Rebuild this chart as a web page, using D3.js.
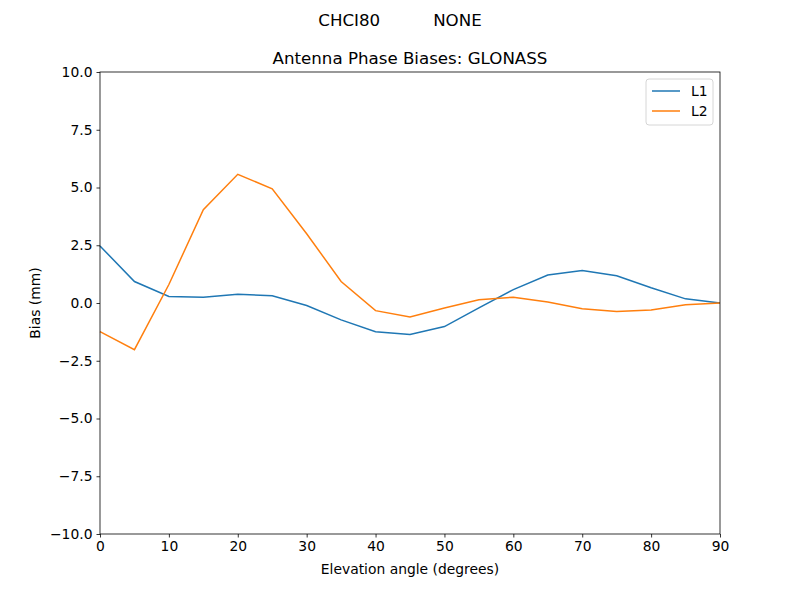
<!DOCTYPE html>
<html>
<head>
<meta charset="utf-8">
<script src="https://cdn.jsdelivr.net/npm/d3@7"></script>
<style>
  body { margin: 0; background: #fff; }
  text { font-family: "DejaVu Sans", sans-serif; }
</style>
</head>
<body>
<script>
const elev = [0, 5, 10, 15, 20, 25, 30, 35, 40, 45, 50, 55, 60, 65, 70, 75, 80, 85, 90];
const l1 = [2.47, 0.93, 0.28, 0.25, 0.38, 0.31, -0.11, -0.73, -1.24, -1.36, -1.02, -0.21, 0.58, 1.21, 1.41, 1.18, 0.66, 0.18, 0.0];
const l2 = [-1.24, -2.02, 0.8, 4.04, 5.57, 4.94, 3.0, 0.93, -0.33, -0.61, -0.22, 0.14, 0.25, 0.04, -0.25, -0.37, -0.3, -0.08, 0.0];
const xTicks = [0, 10, 20, 30, 40, 50, 60, 70, 80, 90];
const yTicks = [-10, -7.5, -5, -2.5, 0, 2.5, 5, 7.5, 10];
const seriesNames = ['L1', 'L2'];
const colors = ['#1f77b4', '#ff7f0e'];

const W = 800, H = 600;
const m = {left: 100, right: 80, top: 72, bottom: 67};
const iw = W - m.left - m.right, ih = H - m.top - m.bottom + 1;
const fs = 13.89, fsTitle = 16.67;

const svg = d3.select('body').append('svg')
    .attr('width', W)
    .attr('height', H);

const x = d3.scaleLinear().domain([0, 90]).range([0, iw]);
const y = d3.scaleLinear().domain([-10, 10]).range([ih, 0]);

const g = svg.append('g').attr('transform', `translate(${m.left},${m.top})`);

// lines
const line = d3.line().x(d => x(d[0])).y(d => y(d[1]));
[l1, l2].forEach((s, i) => {
    g.append('path')
        .datum(elev.map((e, j) => [e, s[j]]))
        .attr('fill', 'none')
        .attr('stroke', colors[i])
        .attr('stroke-width', 1.5)
        .attr('d', line);
});

// axes
const xAxis = g.append('g')
    .attr('transform', `translate(0,${ih})`)
    .call(d3.axisBottom(x).tickValues(xTicks).tickSize(3.5).tickPadding(4).tickFormat(d3.format('d')));
const yAxis = g.append('g')
    .call(d3.axisLeft(y).tickValues(yTicks).tickSize(3.5).tickPadding(4)
        .tickFormat(d => d3.format('.1f')(d).replace('-', '\u2212')));
[xAxis, yAxis].forEach(a => {
    a.selectAll('text').attr('font-size', fs).attr('fill', '#000').style('font-family', '"DejaVu Sans", sans-serif');
    a.selectAll('line').attr('stroke', '#000').attr('stroke-width', 0.8);
    a.select('.domain').remove();
});

// frame
g.append('rect')
    .attr('width', iw).attr('height', ih)
    .attr('fill', 'none').attr('stroke', '#000').attr('stroke-width', 0.8);

// labels
svg.append('text')
    .attr('x', m.left + iw / 2).attr('y', 574)
    .attr('text-anchor', 'middle').attr('font-size', fs)
    .text('Elevation angle (degrees)');
svg.append('text')
    .attr('transform', `translate(40,${m.top + ih / 2}) rotate(-90)`)
    .attr('text-anchor', 'middle').attr('font-size', fs)
    .text('Bias (mm)');
svg.append('text')
    .attr('x', m.left + iw / 2).attr('y', 64)
    .attr('text-anchor', 'middle').attr('font-size', fsTitle)
    .text('Antenna Phase Biases: GLONASS');
svg.append('text')
    .attr('x', W / 2).attr('y', 26)
    .attr('text-anchor', 'middle').attr('font-size', fsTitle)
    .attr('xml:space', 'preserve')
    .style('white-space', 'pre')
    .text('CHCI80          NONE');

// legend
const lg = svg.append('g').attr('transform', `translate(${m.left + iw - 74},${m.top + 7})`);
lg.append('rect')
    .attr('width', 67).attr('height', 46).attr('rx', 3)
    .attr('fill', '#fff').attr('fill-opacity', 0.8)
    .attr('stroke', '#ccc').attr('stroke-width', 0.8);
seriesNames.forEach((n, i) => {
    const yy = 12 + i * 20;
    lg.append('line')
        .attr('x1', 6).attr('x2', 34).attr('y1', yy).attr('y2', yy)
        .attr('stroke', colors[i]).attr('stroke-width', 1.5);
    lg.append('text')
        .attr('x', 45).attr('y', yy + 5)
        .attr('font-size', fs)
        .text(n);
});
</script>
</body>
</html>
